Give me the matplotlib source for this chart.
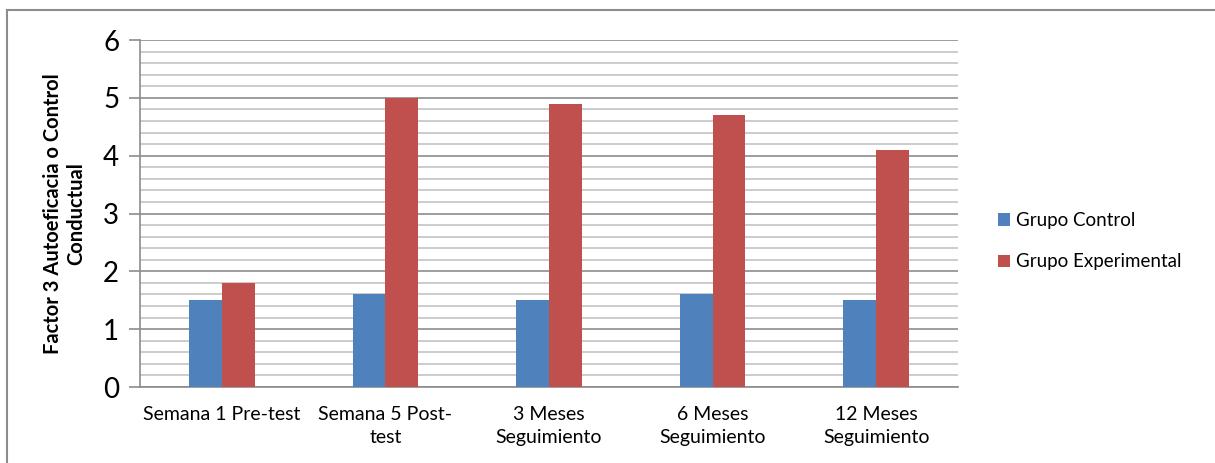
import matplotlib.pyplot as plt
import matplotlib.ticker as mticker
from matplotlib.lines import Line2D
import numpy as np

plt.rcParams["font.family"] = ["Lato", "DejaVu Sans"]

categories = ["Semana 1 Pre-test", "Semana 5 Post-\ntest", "3 Meses\nSeguimiento",
              "6 Meses\nSeguimiento", "12 Meses\nSeguimiento"]
control = [1.5, 1.6, 1.5, 1.6, 1.5]
experimental = [1.8, 5.0, 4.9, 4.7, 4.1]
series_names = ["Grupo Control", "Grupo Experimental"]

BLUE, RED = "#4F81BD", "#C0504D"

fig = plt.figure(figsize=(12.15, 4.63), dpi=100)
ax = fig.add_axes([140 / 1215, 1 - 387 / 463, 818 / 1215, 347 / 463])

x = np.arange(len(categories))
w = 0.2
ax.bar(x - w / 2, control, w, color=BLUE, label=series_names[0], zorder=3)
ax.bar(x + w / 2, experimental, w, color=RED, label=series_names[1], zorder=3)

ax.set_xlim(-0.5, len(categories) - 0.5)
ax.set_ylim(0, 6)
ax.yaxis.set_major_locator(mticker.MultipleLocator(1))
ax.yaxis.set_minor_locator(mticker.MultipleLocator(0.2))
ax.grid(which="major", axis="y", color="#8c8c8c", lw=1.2, zorder=0)
ax.grid(which="minor", axis="y", color="#c4c4c4", lw=1.2, zorder=0)
ax.tick_params(axis="y", which="major", length=8, width=1.2, color="#8c8c8c",
               labelsize=20, pad=7)
ax.tick_params(axis="y", which="minor", length=0)
ax.tick_params(axis="x", length=0, labelsize=14, pad=14)
ax.set_xticks(x)
ax.set_xticklabels(categories, linespacing=1.4)
for s in ("top", "right"):
    ax.spines[s].set_visible(False)
for s in ("left", "bottom"):
    ax.spines[s].set_color("#8c8c8c")
    ax.spines[s].set_linewidth(1.2)

ax.set_ylabel("Factor 3 Autoeficacia o Control\nConductual", fontsize=14.5,
              fontweight="bold", labelpad=12, linespacing=1.2)

ax.legend(loc="center left", bbox_to_anchor=(1.028, 0.42), frameon=False,
          fontsize=13.5, handlelength=0.65, handleheight=0.65, handletextpad=0.3,
          labelspacing=1.3)

# outer chart border (top and left visible)
fig.add_artist(Line2D([7 / 1215, 7 / 1215], [0, 1 - 10 / 463], color="#8c8c8c",
                      lw=1.5, transform=fig.transFigure))
fig.add_artist(Line2D([7 / 1215, 1], [1 - 10 / 463, 1 - 10 / 463], color="#8c8c8c",
                      lw=1.5, transform=fig.transFigure))

plt.savefig("out.png", dpi=100)
